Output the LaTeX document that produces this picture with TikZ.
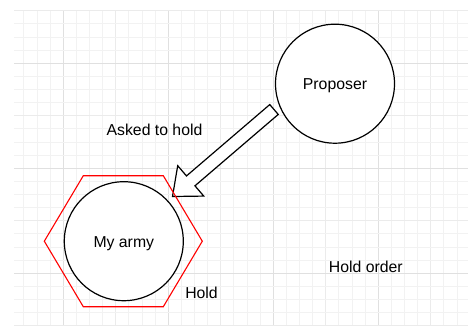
\documentclass[tikz,border=0pt]{standalone}
\usepackage{fontspec}
\setmainfont{Liberation Sans}
\usetikzlibrary{calc}
\begin{document}
\begin{tikzpicture}[x=1pt,y=-1pt,
  every node/.style={font=\fontsize{15.8}{18}\selectfont, text height=12pt, text depth=0pt, inner sep=0pt},
  ball/.style={circle, draw=black, line width=1.2pt, minimum size=119pt, fill=white},
  minorgrid/.style={draw=black!5, line width=0.9pt},
  midgrid/.style={draw=black!8, line width=0.9pt},
  majorgrid/.style={draw=black!12, line width=0.9pt},
  hexline/.style={draw=red, line width=1.1pt, line join=miter},
  fatarrow/.style={draw=black, fill=white, line width=1.2pt, line join=miter}]
\useasboundingbox (0,0) rectangle (468,327);
\fill[white] (0,0) rectangle (468,327);
% grid
\foreach \k in {1,...,34} {
  \pgfmathsetmacro{\gx}{10.8+\k*13.125}
  \pgfmathtruncatemacro{\m}{mod(\k,8)}
  \ifnum\m=4\relax
    \draw[majorgrid] (\gx,10.8) -- (\gx,325.8);
  \else\ifnum\m=0\relax
    \draw[midgrid] (\gx,10.8) -- (\gx,325.8);
  \else
    \draw[minorgrid] (\gx,10.8) -- (\gx,325.8);
  \fi\fi
}
\foreach \k in {0,...,24} {
  \pgfmathsetmacro{\gy}{10.8+\k*13.125}
  \pgfmathtruncatemacro{\m}{mod(\k,8)}
  \ifnum\m=4\relax
    \draw[majorgrid] (14,\gy) -- (468,\gy);
  \else\ifnum\m=0\relax
    \draw[midgrid] (14,\gy) -- (468,\gy);
  \else
    \draw[minorgrid] (14,\gy) -- (468,\gy);
  \fi\fi
}
% nodes
\node[ball] (prop) at (335,83.7) {Proposer};
\node[ball] (army) at (123.8,241.2) {My army};
% fat arrow connector
\coordinate (tail) at (274,109.5);
\coordinate (tip) at (172.5,196.5);
\coordinate (hb) at ($(tip)!24pt!(tail)$);
\draw[fatarrow] ($(tail)!6.5pt!90:(tip)$) -- ($(hb)!6.5pt!90:(tip)$) -- ($(hb)!20pt!90:(tip)$)
  -- (tip) -- ($(hb)!20pt!-90:(tip)$) -- ($(hb)!6.5pt!-90:(tip)$) -- ($(tail)!6.5pt!-90:(tip)$) -- cycle;
% hexagon around army
\draw[hexline] ($(army)+(-79.5,0)$) -- ($(army)+(-40.5,-65.5)$) -- ($(army)+(39.5,-65.5)$)
  -- ($(army)+(78.5,0)$) -- ($(army)+(39.5,65.5)$) -- ($(army)+(-40.5,65.5)$) -- cycle;
% labels
\node (ask) at (154.5,129) {Asked to hold};
\node (holdorder) at (365.8,266.3) {Hold order};
\node (hold) at (201.5,292.3) {Hold};
\end{tikzpicture}
\end{document}
